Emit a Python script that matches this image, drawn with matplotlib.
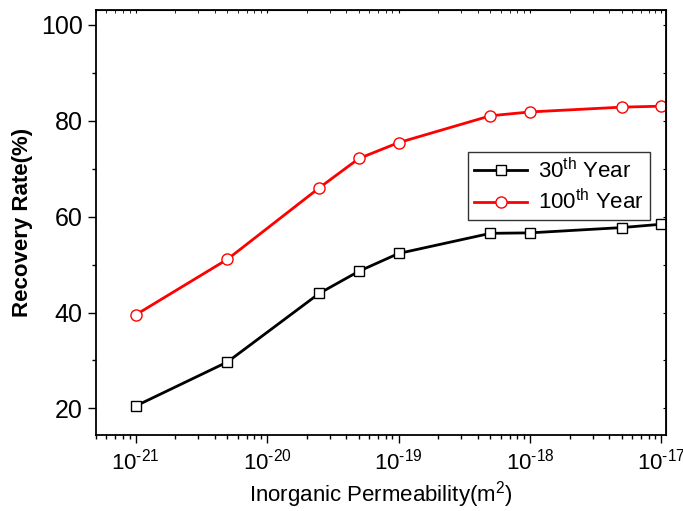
import numpy as np
import matplotlib
matplotlib.use("Agg")
import matplotlib.pyplot as plt
from matplotlib.ticker import LogLocator, MultipleLocator, NullFormatter, FuncFormatter

plt.rcParams["font.family"] = ["Liberation Sans", "DejaVu Sans"]
plt.rcParams["mathtext.fontset"] = "custom"
plt.rcParams["mathtext.rm"] = "Liberation Sans"
plt.rcParams["mathtext.it"] = "Liberation Sans:italic"
plt.rcParams["mathtext.bf"] = "Liberation Sans:bold"

permeability = [1e-21, 5e-21, 2.5e-20, 5e-20, 1e-19, 5e-19, 1e-18, 5e-18, 1e-17]
year30 = [20.5, 29.7, 44.0, 48.6, 52.3, 56.5, 56.6, 57.7, 58.4]
year100 = [39.5, 51.1, 66.0, 72.1, 75.4, 81.0, 81.8, 82.8, 83.0]

fig = plt.figure(figsize=(6.83, 5.11), dpi=100)
ax = fig.add_axes([0.1406, 0.149, 0.835, 0.831])

ax.plot(permeability, year30, color="black", lw=2, marker="s", ms=7,
        mfc="white", mec="black", mew=1, label=r"30$^{\mathrm{th}}$ Year")
ax.plot(permeability, year100, color="red", lw=2, marker="o", ms=8,
        mfc="white", mec="red", mew=1, label=r"100$^{\mathrm{th}}$ Year")

ax.set_xscale("log")
ax.set_xlim(5e-22, 1.09e-17)
ax.set_ylim(14.5, 103)
ax.xaxis.set_major_locator(LogLocator(base=10, numticks=10))
ax.xaxis.set_minor_locator(LogLocator(base=10, subs=np.arange(2, 10), numticks=20))
ax.xaxis.set_minor_formatter(NullFormatter())
# hyphen in the exponent, like the original
ax.xaxis.set_major_formatter(FuncFormatter(
    lambda v, p: r"$10^{\mathrm{%s}}$" % ("\u2010" + str(abs(int(round(np.log10(v))))))))
ax.yaxis.set_major_locator(MultipleLocator(20))
ax.yaxis.set_minor_locator(MultipleLocator(10))

ax.tick_params(which="both", direction="out", width=1)
ax.tick_params(axis="y", labelsize=18)
ax.tick_params(axis="x", labelsize=16, pad=4)
ax.tick_params(which="major", length=6)
ax.tick_params(which="minor", length=3)

# mirrored ticks on top/right, pointing in
top = ax.secondary_xaxis("top")
top.xaxis.set_minor_locator(LogLocator(base=10, subs=np.arange(2, 10), numticks=20))
top.tick_params(which="both", direction="in", labeltop=False, length=2)
right = ax.secondary_yaxis("right")
right.yaxis.set_minor_locator(MultipleLocator(10))
right.tick_params(which="both", direction="in", labelright=False, length=2)
for s in ax.spines.values():
    s.set_linewidth(1.3)

ax.set_xlabel(r"Inorganic Permeability(m$^{2}$)", fontsize=16, labelpad=3)
ax.set_ylabel("Recovery Rate(%)", fontsize=16, fontweight="bold", labelpad=6)

leg = ax.legend(loc="upper left", bbox_to_anchor=(0.653, 0.666), fontsize=16,
                frameon=True, fancybox=False, edgecolor="black",
                handlelength=2.4, handletextpad=0.5, borderpad=0.25,
                labelspacing=0.3, borderaxespad=0)
leg.get_frame().set_linewidth(1)

fig.savefig("out.png", dpi=100)
